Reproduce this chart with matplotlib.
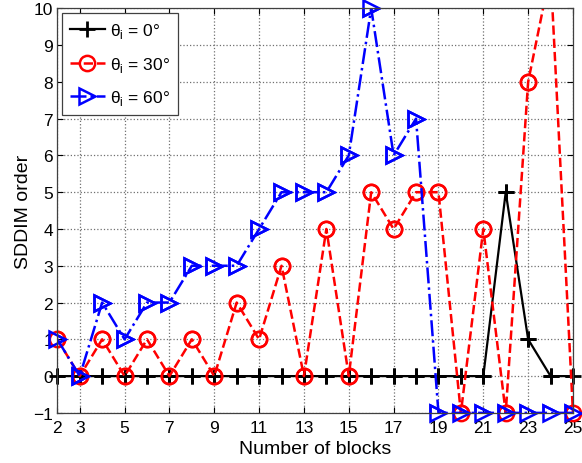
import matplotlib
matplotlib.use("Agg")
import matplotlib.pyplot as plt
import numpy as np

plt.rcParams['font.family'] = ['Liberation Sans', 'DejaVu Sans']
plt.rcParams['mathtext.fontset'] = 'custom'
plt.rcParams['mathtext.rm'] = 'Liberation Sans'

blocks = list(range(2, 26))
theta0 = [0, 0, 0, 0, 0, 0, 0, 0, 0, 0, 0, 0, 0, 0, 0, 0, 0, 0, 0, 0, 5, 1, 0, 0]
theta30 = [1, 0, 1, 0, 1, 0, 1, 0, 2, 1, 3, 0, 4, 0, 5, 4, 5, 5, -1, 4, -1, 8, 11, -1]
theta60 = [1, 0, 2, 1, 2, 2, 3, 3, 3, 4, 5, 5, 5, 6, 10, 6, 7, -1, -1, -1, -1, -1, -1, -1]
labels = ['θ$_\\mathregular{i}$ = 0°', 'θ$_\\mathregular{i}$ = 30°', 'θ$_\\mathregular{i}$ = 60°']
xticks = [2, 3, 5, 7, 9, 11, 13, 15, 17, 19, 21, 23, 25]
yticks = list(range(-1, 11))
ymin, ymax = -1, 10

fig = plt.figure(figsize=(5.82, 4.64), dpi=100)
ax = fig.add_axes([0.0985, 0.108, 0.886, 0.872])

styles = [
    dict(color='black', linestyle='-', linewidth=1.6, marker='+', markersize=11,
         markeredgewidth=2),
    dict(color='red', linestyle='--', linewidth=1.8, marker='o', markersize=11,
         markerfacecolor='none', markeredgewidth=1.8),
    dict(color='blue', linestyle='-.', linewidth=1.8, marker='>', markersize=12,
         markerfacecolor='none', markeredgewidth=1.8),
]
series = [theta0, theta30, theta60]
x = np.array(blocks)
for ys, st, lab in zip(series, styles, labels):
    ys = np.array(ys, dtype=float)
    ax.plot(x, ys, label=lab, **st)
    inside = (ys >= ymin) & (ys <= ymax)
    mst = dict(st)
    mst['linestyle'] = 'none'
    ax.plot(x[inside], ys[inside], clip_on=False, **mst)

ax.set_xlim(2, 25)
ax.set_ylim(ymin, ymax)
ax.set_xticks(xticks)
ax.set_yticks(yticks)
ax.tick_params(direction='in', top=True, right=True, labelsize=12.5, length=4, pad=3)
ax.tick_params(axis='x', pad=5)
ax.grid(True, linestyle=':', color='#707070', linewidth=0.9)
for s in ax.spines.values():
    s.set_color('#404040')
    s.set_linewidth(0.9)

ax.set_xlabel('Number of blocks', fontsize=14, labelpad=3.5)
ax.set_ylabel('SDDIM order', fontsize=14, labelpad=1)

leg = ax.legend(loc='upper left', fontsize=12.5, frameon=True, fancybox=False,
                edgecolor='#404040', framealpha=1, handlelength=2.0,
                handletextpad=0.3, borderpad=0.45, labelspacing=0.85,
                bbox_to_anchor=(0.009, 0.988), borderaxespad=0.0)
leg.get_frame().set_linewidth(0.9)

fig.savefig('out.png', dpi=100)
